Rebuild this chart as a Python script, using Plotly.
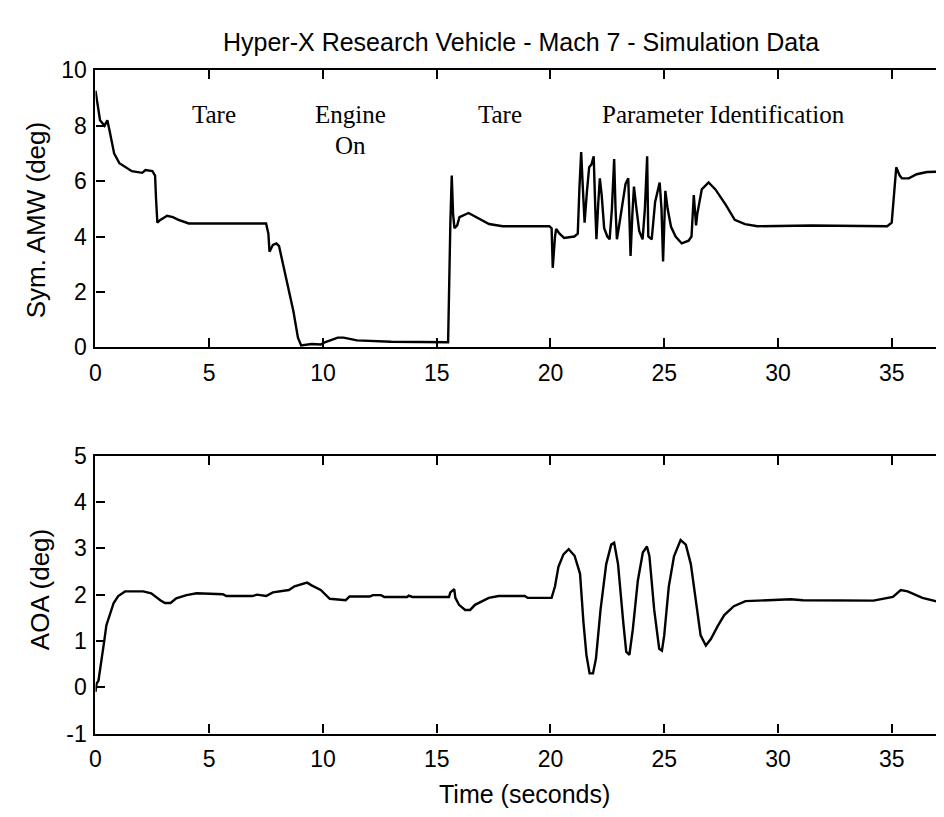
import plotly.graph_objects as go

# ---------------- data ----------------
t_amw = [0.0, 0.05, 0.2, 0.4, 0.52, 0.6, 0.82, 1.05, 1.6, 2.05, 2.2, 2.5, 2.62, 2.66, 2.72,
         2.85, 3.15, 3.4, 3.65, 4.1, 5.5, 7.5, 7.6, 7.65, 7.8, 7.95, 8.07, 8.3, 8.7, 8.9,
         9.04, 9.5, 9.9, 10.05, 10.65, 10.9, 11.5, 13.0, 15.5, 15.6, 15.66, 15.72, 15.78, 15.9,
         16.0, 16.4, 16.75, 17.3, 17.9, 19.95, 20.05, 20.1, 20.2, 20.25, 20.4, 20.6, 21.05, 21.2,
         21.27, 21.35, 21.42, 21.5, 21.6, 21.7, 21.8, 21.9, 21.97, 22.02, 22.1, 22.17, 22.25,
         22.36, 22.5, 22.6, 22.7, 22.8, 22.86, 22.92, 23.0, 23.1, 23.3, 23.42, 23.47, 23.52,
         23.6, 23.67, 23.78, 23.9, 24.05, 24.15, 24.25, 24.3, 24.45, 24.6, 24.8, 24.88, 24.95,
         25.05, 25.15, 25.3, 25.5, 25.77, 26.07, 26.2, 26.3, 26.35, 26.4, 26.45, 26.65, 26.95,
         27.25, 27.7, 28.1, 28.55, 29.1, 31.45, 34.8, 35.0, 35.1, 35.2, 35.35, 35.45, 35.75,
         36.1, 36.55, 37.6]
v_amw = [9.27, 9.0, 8.2, 8.0, 8.2, 7.9, 7.0, 6.65, 6.36, 6.3, 6.4, 6.36, 6.2, 5.4, 4.5,
         4.6, 4.75, 4.7, 4.6, 4.47, 4.47, 4.47, 4.1, 3.45, 3.7, 3.75, 3.65, 2.8, 1.3, 0.35,
         0.07, 0.12, 0.1, 0.17, 0.35, 0.35, 0.25, 0.2, 0.18, 4.5, 6.2, 4.8, 4.3, 4.4,
         4.7, 4.85, 4.7, 4.45, 4.37, 4.37, 4.3, 2.87, 4.0, 4.27, 4.1, 3.95, 4.0, 4.1,
         5.7, 7.05, 5.8, 4.5, 5.6, 6.5, 6.6, 6.9, 5.0, 3.9, 5.2, 6.1, 5.5,
         4.3, 4.0, 3.9, 5.0, 6.8, 5.0, 3.9, 4.3, 4.8, 5.9, 6.1, 5.0, 3.3,
         4.8, 5.8, 5.0, 4.2, 3.9, 5.0, 6.9, 4.0, 3.9, 5.25, 5.95, 5.0, 3.1,
         5.65, 5.0, 4.35, 4.0, 3.75, 3.85, 4.0, 5.5, 5.0, 4.4, 4.8, 5.7, 5.95,
         5.7, 5.15, 4.6, 4.45, 4.37, 4.4, 4.37, 4.5, 5.7, 6.5, 6.2, 6.1, 6.1,
         6.25, 6.33, 6.35]

t_aoa = [0.0, 0.05, 0.13, 0.27, 0.38, 0.48, 0.65, 0.8, 1.0, 1.3, 2.1, 2.45, 2.85, 3.05, 3.3,
         3.55, 4.0, 4.45, 5.6, 5.75, 6.9, 7.1, 7.5, 7.8, 8.5, 8.75, 9.3, 9.5, 9.9, 10.3,
         11.0, 11.17, 12.05, 12.2, 12.55, 12.7, 13.7, 13.77, 13.93, 15.54, 15.6, 15.77, 15.82,
         15.98, 16.25, 16.47, 16.68, 17.07, 17.29, 17.72, 18.87, 19.0, 20.05, 20.2, 20.35,
         20.57, 20.8, 21.06, 21.3, 21.45, 21.58, 21.72, 21.87, 22.0, 22.2, 22.45, 22.67, 22.8,
         22.97, 23.2, 23.33, 23.47, 23.62, 23.84, 24.06, 24.24, 24.35, 24.56, 24.78, 24.9,
         25.0, 25.2, 25.43, 25.72, 25.95, 26.17, 26.39, 26.6, 26.83, 27.05, 27.35, 27.64,
         28.06, 28.57, 30.55, 31.1, 34.2, 35.05, 35.4, 35.7, 36.35, 37.1, 37.67]
v_aoa = [-0.1, 0.08, 0.14, 0.56, 0.98, 1.34, 1.6, 1.82, 1.97, 2.07, 2.07, 2.03, 1.88, 1.82, 1.82,
         1.92, 1.99, 2.03, 2.01, 1.97, 1.97, 2.0, 1.97, 2.05, 2.1, 2.18, 2.26, 2.2, 2.1, 1.91,
         1.88, 1.96, 1.96, 1.99, 1.99, 1.95, 1.95, 1.98, 1.95, 1.95, 2.05, 2.12, 1.93,
         1.78, 1.67, 1.67, 1.78, 1.88, 1.93, 1.97, 1.97, 1.93, 1.93, 2.18, 2.6,
         2.87, 2.98, 2.84, 2.45, 1.4, 0.7, 0.3, 0.3, 0.62, 1.67, 2.66, 3.08, 3.12,
         2.66, 1.4, 0.77, 0.7, 1.25, 2.3, 2.91, 3.04, 2.83, 1.67, 0.83, 0.79,
         1.12, 2.17, 2.83, 3.18, 3.08, 2.66, 1.89, 1.12, 0.9, 1.04, 1.32, 1.56,
         1.75, 1.86, 1.9, 1.88, 1.87, 1.95, 2.1, 2.07, 1.93, 1.84, 1.86]

x_ticks = [0, 5, 10, 15, 20, 25, 30, 35]
amw_ticks = [0, 2, 4, 6, 8, 10]
aoa_ticks = [-1, 0, 1, 2, 3, 4, 5]
aoa_tick_text = ["-1", "0", "1", "2", "3", "4", "5"]

phase_labels = ["Tare", "Engine", "On", "Tare", "Parameter Identification"]
phase_x = [5.2, 11.2, 11.2, 17.8, 27.6]
phase_y = [8.4, 8.4, 7.3, 8.4, 8.4]

title_text = "Hyper-X Research Vehicle - Mach 7 - Simulation Data"
amw_label = "Sym. AMW (deg)"
aoa_label = "AOA (deg)"
time_label = "Time (seconds)"

assert len(t_amw) == len(v_amw), (len(t_amw), len(v_amw))
assert len(t_aoa) == len(v_aoa), (len(t_aoa), len(v_aoa))

# ---------------- figure ----------------
W, H = 944, 817
SANS = "Liberation Sans, Arial, Helvetica, sans-serif"
SERIF = "Liberation Serif, Times New Roman, serif"
TICKF = dict(family=SANS, size=23, color="black")

fig = go.Figure()
fig.add_trace(go.Scatter(x=t_amw, y=v_amw, mode="lines", xaxis="x", yaxis="y",
                         line=dict(color="black", width=2.4), showlegend=False,
                         hoverinfo="skip"))
fig.add_trace(go.Scatter(x=t_aoa, y=v_aoa, mode="lines", xaxis="x2", yaxis="y2",
                         line=dict(color="black", width=2.4), showlegend=False,
                         hoverinfo="skip"))
# transparent copies that carry the right-hand (inward) tick marks
fig.add_trace(go.Scatter(x=t_amw, y=v_amw, mode="lines", xaxis="x", yaxis="y3",
                         line=dict(color="rgba(0,0,0,0)", width=1), showlegend=False,
                         hoverinfo="skip"))
fig.add_trace(go.Scatter(x=t_aoa, y=v_aoa, mode="lines", xaxis="x2", yaxis="y4",
                         line=dict(color="rgba(0,0,0,0)", width=1), showlegend=False,
                         hoverinfo="skip"))

xr = [0, 37.65]
xdom = [82 / W, 1.0]
top_dom = [(H - 337) / H, (H - 51) / H]
bot_dom = [(H - 736) / H, (H - 449) / H]

xcommon = dict(range=xr, domain=xdom, tickvals=x_ticks, ticks="inside", ticklen=9,
               tickwidth=1.6, tickcolor="black", showline=True, linecolor="black",
               linewidth=2.2, mirror="ticks", showgrid=False, zeroline=False,
               tickfont=TICKF, ticklabelstandoff=4)
ycommon = dict(ticks="inside", ticklen=9, tickwidth=1.6, tickcolor="black",
               showline=True, linecolor="black", linewidth=2.2, showgrid=False,
               zeroline=False, tickfont=TICKF, ticklabelstandoff=2)
rcommon = dict(side="right", ticks="inside", ticklen=6, tickwidth=1.6, tickcolor="black",
               showline=False, showticklabels=False, showgrid=False, zeroline=False)

fig.update_layout(
    width=W, height=H,
    margin=dict(l=0, r=0, t=0, b=0),
    paper_bgcolor="white", plot_bgcolor="white",
    xaxis=dict(anchor="y", **xcommon),
    xaxis2=dict(anchor="y2", **xcommon),
    yaxis=dict(anchor="x", domain=top_dom, range=[0, 10], tickvals=amw_ticks, **ycommon),
    yaxis2=dict(anchor="x2", domain=bot_dom, range=[-1, 5], tickvals=aoa_ticks,
                ticktext=aoa_tick_text, **ycommon),
    yaxis3=dict(overlaying="y", anchor="x", range=[0, 10], tickvals=amw_ticks, **rcommon),
    yaxis4=dict(overlaying="y2", anchor="x2", range=[-1, 5], tickvals=aoa_ticks, **rcommon),
    showlegend=False,
)

ann = []
ann.append(dict(text=title_text, x=510 / W, y=(H - 22) / H, xref="paper", yref="paper",
                showarrow=False, xanchor="center", yanchor="middle",
                font=dict(family=SANS, size=25, color="black")))
ann.append(dict(text=amw_label, x=23 / W, y=(H - 206) / H, xref="paper", yref="paper",
                showarrow=False, textangle=-90, xanchor="center", yanchor="middle",
                font=dict(family=SANS, size=26, color="black")))
ann.append(dict(text=aoa_label, x=26 / W, y=(H - 587) / H, xref="paper", yref="paper",
                showarrow=False, textangle=-90, xanchor="center", yanchor="middle",
                font=dict(family=SANS, size=26, color="black")))
ann.append(dict(text=time_label, x=514 / W, y=(H - 798) / H, xref="paper", yref="paper",
                showarrow=False, xanchor="center", yanchor="middle",
                font=dict(family=SANS, size=25, color="black")))
for lab, px, py in zip(phase_labels, phase_x, phase_y):
    ann.append(dict(text=lab, x=px, y=py, xref="x", yref="y", showarrow=False,
                    xanchor="center", yanchor="middle",
                    font=dict(family=SERIF, size=25, color="black")))
fig.update_layout(annotations=ann)

fig.write_html("out.html")
